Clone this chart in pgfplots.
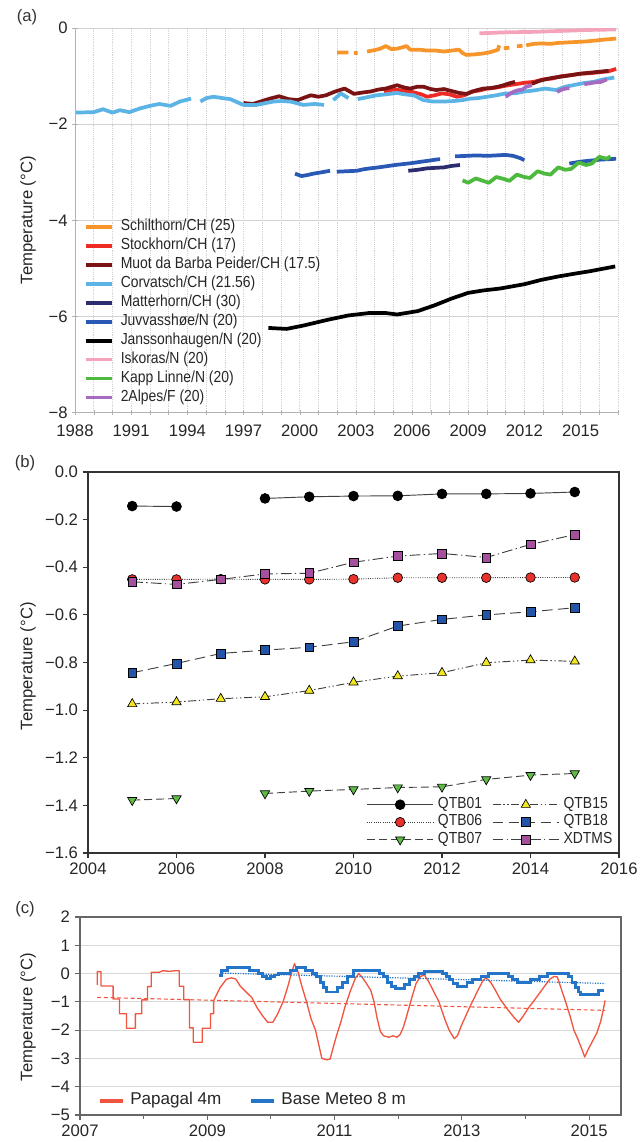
\documentclass[border=0pt]{standalone}
\usepackage{fontspec}
\setmainfont{Liberation Sans}
\newfontfamily\narrowfont{Liberation Sans}[FakeStretch=0.87]
\usepackage{pgfplots}
\pgfplotsset{compat=1.18}
\definecolor{cSchil}{HTML}{F7952B}
\definecolor{cStock}{HTML}{EE2A24}
\definecolor{cMuot}{HTML}{7A1414}
\definecolor{cCorv}{HTML}{5BB3E6}
\definecolor{cMatt}{HTML}{2C2C70}
\definecolor{cJuv}{HTML}{2A58B5}
\definecolor{cIsk}{HTML}{F4A3BA}
\definecolor{cKapp}{HTML}{4DBA3F}
\definecolor{cAlp}{HTML}{A66AC0}
\definecolor{bRed}{HTML}{E8312A}
\definecolor{bGreen}{HTML}{5DBB46}
\definecolor{bYellow}{HTML}{F2E61E}
\definecolor{bBlue}{HTML}{2255A8}
\definecolor{bPurple}{HTML}{A4509F}
\definecolor{pRed}{HTML}{F2553F}
\definecolor{pBlue}{HTML}{2474C8}
\newcommand{\tickfont}{\fontsize{12.5}{13}\selectfont}
\begin{document}
\begin{tikzpicture}
\useasboundingbox (0pt,0pt) rectangle (482.25pt,-856.5pt);
\node[font=\tickfont, text=black!80] at (20.25pt,-12.75pt) {(a)};
\node[font=\tickfont, text=black!80] at (18.75pt,-347.25pt) {(b)};
\node[font=\tickfont, text=black!80] at (18.75pt,-681.75pt) {(c)};
% ---------------- panel (a)
\begin{axis}[
  at={(56.25pt,-309.4pt)}, anchor=south west, scale only axis,
  width=407.25pt, height=288.4pt,
  xmin=1988, xmax=2017, ymin=-8, ymax=0,
  xtick={1988,1991,1994,1997,2000,2003,2006,2009,2012,2015},
  xticklabels={1988,1991,1994,1997,2000,2003,2006,2009,2012,2015},
  minor xtick={1988,1989,...,2017},
  ytick={-8,-6,-4,-2,0}, yticklabels={−8,−6,−4,−2,0},
  axis lines*=left, axis line style={gray!60},
  tick align=center, major tick length=4pt, minor tick length=4pt,
  tick style={gray!60},
  xminorgrids, ymajorgrids,
  minor grid style={gray!35, densely dotted},
  major grid style={gray!35, solid},
  tick label style={font=\tickfont, text=black!85},
  xticklabel style={yshift=-3.5pt},
  ylabel={Temperature (°C)},
  ylabel style={font=\tickfont, text=black!85, at={(axis description cs:-0.0866,0.5)}, anchor=center},
  unbounded coords=jump,
  every axis plot/.append style={line width=2.8pt, line join=round},
  legend image code/.code={\draw[#1,line width=2.8pt] (0pt,0pt) -- (19.5pt,0pt);},
  legend cell align=left,
  legend style={at={(axis cs:1988.45,-3.99)}, anchor=north west, draw=none, fill=none,
    inner sep=0pt, row sep=3.7pt, font=\narrowfont\fontsize{12}{12}\selectfont, text=black!85,
    nodes={inner sep=0pt, text height=8.2pt, text depth=2.3pt},
    /tikz/every odd column/.append style={column sep=5.5pt}},
]
\addplot[cSchil] coordinates {(2002.0,-0.51)(2002.6,-0.51)(2002.7,nan)(2002.9,-0.52)(2003.1,-0.52)(2003.3,nan)(2003.6,-0.49)(2004.0,-0.46)(2004.3,-0.43)(2004.6,-0.375)(2004.9,-0.44)(2005.2,-0.43)(2005.5,-0.40)(2005.7,-0.375)(2005.9,-0.45)(2006.4,-0.45)(2006.8,-0.47)(2007.3,-0.47)(2007.7,-0.49)(2008.1,-0.47)(2008.5,-0.45)(2008.7,-0.52)(2008.9,-0.56)(2009.3,-0.55)(2009.8,-0.53)(2010.2,-0.50)(2010.6,-0.45)(2010.65,-0.36)(2010.8,nan)(2010.9,-0.42)(2011.2,-0.41)(2011.4,nan)(2011.6,-0.38)(2011.9,-0.37)(2012.0,nan)(2012.1,-0.36)(2012.5,-0.33)(2012.9,-0.32)(2013.4,-0.33)(2013.8,-0.31)(2014.3,-0.30)(2014.8,-0.29)(2015.3,-0.28)(2015.8,-0.26)(2016.3,-0.24)(2016.9,-0.22)};
\addlegendentry{Schilthorn/CH (25)}
\addplot[cStock] coordinates {(2004.5,-1.32)(2005.0,-1.28)(2005.5,-1.30)(2006.0,-1.33)(2006.5,-1.38)(2006.8,-1.43)(2007.2,-1.40)(2007.6,-1.36)(2008.0,-1.38)(2008.4,-1.43)(2008.8,-1.40)(2009.2,-1.32)(2009.6,-1.30)(2010.0,-1.26)(2010.5,-1.24)(2011.0,-1.20)(2011.5,-1.17)(2012.0,-1.14)(2012.5,-1.12)(2013.0,-1.07)(2013.5,-1.05)(2014.0,-1.00)(2014.5,-0.98)(2015.0,-0.95)(2015.5,-0.94)(2016.0,-0.92)(2016.5,-0.90)(2016.9,-0.85)};
\addlegendentry{Stockhorn/CH (17)}
\addplot[cMuot] coordinates {(1997.0,-1.56)(1997.5,-1.58)(1998.0,-1.52)(1998.4,-1.47)(1998.9,-1.42)(1999.4,-1.48)(1999.9,-1.50)(2000.3,-1.44)(2000.6,-1.40)(2001.0,-1.43)(2001.4,-1.40)(2001.9,-1.32)(2002.4,-1.26)(2002.9,-1.37)(2003.4,-1.34)(2003.8,-1.32)(2004.2,-1.28)(2004.6,-1.26)(2005.2,-1.19)(2005.6,-1.24)(2005.9,-1.26)(2006.3,-1.22)(2006.6,-1.22)(2007.0,-1.27)(2007.3,-1.29)(2007.7,-1.27)(2008.0,-1.30)(2008.5,-1.35)(2008.9,-1.37)(2009.4,-1.30)(2009.8,-1.26)(2010.2,-1.25)(2010.6,-1.22)(2010.9,-1.19)(2011.2,-1.15)(2011.5,-1.12)(2011.9,nan)(2012.4,-1.16)(2012.8,-1.10)(2013.2,-1.06)(2013.6,-1.03)(2014.0,-1.01)(2014.5,-0.98)(2015.0,-0.95)(2015.5,-0.93)(2016.0,-0.91)(2016.5,-0.89)};
\addlegendentry{Muot da Barba Peider/CH (17.5)}
\addplot[cCorv] coordinates {(1988.05,-1.76)(1989.0,-1.75)(1989.5,-1.69)(1990.0,-1.76)(1990.4,-1.71)(1990.9,-1.75)(1991.5,-1.67)(1992.0,-1.62)(1992.5,-1.58)(1993.1,-1.62)(1993.6,-1.53)(1994.2,-1.47)(1994.45,nan)(1994.7,-1.53)(1995.0,-1.46)(1995.4,-1.43)(1995.9,-1.46)(1996.3,-1.48)(1996.7,-1.55)(1997.0,-1.60)(1997.7,-1.60)(1998.2,-1.56)(1998.6,-1.53)(1999.0,-1.52)(1999.5,-1.53)(2000.2,-1.60)(2000.8,-1.58)(2001.3,-1.60)(2001.55,nan)(2001.8,-1.50)(2002.2,-1.36)(2002.6,-1.46)(2002.85,nan)(2003.1,-1.48)(2003.6,-1.44)(2004.1,-1.40)(2004.6,-1.38)(2005.2,-1.35)(2005.6,-1.38)(2006.1,-1.40)(2006.6,-1.50)(2007.1,-1.53)(2007.7,-1.53)(2008.2,-1.52)(2008.7,-1.50)(2009.1,-1.47)(2009.5,-1.46)(2010.0,-1.43)(2010.5,-1.40)(2011.0,-1.36)(2011.5,-1.36)(2012.0,-1.32)(2012.5,-1.30)(2013.1,-1.26)(2013.7,-1.29)(2014.2,-1.22)(2014.6,-1.19)(2015.1,-1.15)(2015.7,-1.12)(2016.2,-1.07)(2016.8,-1.03)};
\addlegendentry{Corvatsch/CH (21.56)}
\addplot[cMatt] coordinates {(2005.8,-2.97)(2006.3,-2.95)(2006.8,-2.92)(2007.2,-2.91)(2007.7,-2.90)(2008.1,-2.87)(2008.56,-2.85)};
\addlegendentry{Matterhorn/CH (30)}
\addplot[cJuv] coordinates {(1999.75,-3.03)(2000.1,-3.08)(2000.4,-3.06)(2000.73,-3.03)(2001.2,-3.00)(2001.62,-2.97)(2001.8,nan)(2001.98,-2.99)(2002.5,-2.98)(2003.05,-2.97)(2003.4,-2.94)(2003.76,-2.92)(2004.2,-2.90)(2004.65,-2.875)(2005.1,-2.85)(2005.54,-2.83)(2006.0,-2.81)(2006.43,-2.785)(2006.9,-2.76)(2007.32,-2.735)(2007.5,-2.73)(2007.9,nan)(2008.3,-2.67)(2008.9,-2.66)(2009.46,-2.65)(2010.0,-2.66)(2010.5,-2.65)(2011.0,-2.64)(2011.4,-2.66)(2011.8,-2.71)(2012.0,-2.75)(2013.0,nan)(2014.4,-2.82)(2015.0,-2.78)(2015.5,-2.76)(2016.0,-2.74)(2016.9,-2.72)};
\addlegendentry{Juvvasshøe/N (20)}
\addplot[black] coordinates {(1998.33,-6.24)(1999.3,-6.26)(2000.2,-6.19)(2001.5,-6.07)(2002.6,-5.98)(2003.7,-5.93)(2004.6,-5.93)(2005.2,-5.96)(2006.3,-5.89)(2007.2,-5.77)(2008.1,-5.63)(2009.0,-5.51)(2009.8,-5.46)(2010.7,-5.42)(2012.0,-5.33)(2012.9,-5.24)(2013.8,-5.17)(2014.7,-5.11)(2015.5,-5.06)(2016.85,-4.96)};
\addlegendentry{Janssonhaugen/N (20)}
\addplot[cIsk] coordinates {(2009.6,-0.11)(2011.0,-0.09)(2012.5,-0.08)(2014.0,-0.06)(2015.5,-0.04)(2016.9,-0.03)};
\addlegendentry{Iskoras/N (20)}
\addplot[cKapp] coordinates {(2008.7,-3.17)(2009.0,-3.22)(2009.4,-3.13)(2009.8,-3.18)(2010.1,-3.22)(2010.5,-3.10)(2010.9,-3.14)(2011.2,-3.18)(2011.6,-3.05)(2012.0,-3.10)(2012.3,-3.12)(2012.7,-2.98)(2013.1,-3.03)(2013.4,-3.05)(2013.8,-2.90)(2014.2,-2.95)(2014.5,-2.93)(2014.9,-2.80)(2015.3,-2.85)(2015.6,-2.82)(2016.0,-2.68)(2016.4,-2.72)(2016.6,-2.67)};
\addlegendentry{Kapp Linne/N (20)}
\addplot[cAlp] coordinates {(2011.0,-1.43)(2011.3,-1.35)(2011.6,-1.30)(2011.9,-1.28)(2012.1,-1.22)(2012.4,-1.19)(2013.0,nan)(2013.75,-1.33)(2014.0,-1.28)(2014.2,-1.26)(2014.4,-1.25)(2014.8,nan)(2015.2,-1.17)(2015.5,-1.15)(2015.8,-1.13)(2016.1,-1.12)(2016.4,-1.07)};
\addlegendentry{2Alpes/F (20)}
\end{axis}
% ---------------- panel (b)
\begin{axis}[
  at={(66pt,-639.75pt)}, anchor=south west, scale only axis,
  width=398.25pt, height=285.75pt,
  xmin=2004, xmax=2016, ymin=-1.6, ymax=0,
  xtick={2004,2006,2008,2010,2012,2014,2016},
  xticklabels={2004,2006,2008,2010,2012,2014,2016},
  ytick={-1.6,-1.4,-1.2,-1,-0.8,-0.6,-0.4,-0.2,0},
  yticklabels={−1.6,−1.4,−1.2,−1.0,−0.8,−0.6,−0.4,−0.2,0.0},
  xtick pos=bottom, ytick pos=left, tick align=outside, major tick length=4pt,
  axis line style={black!80, line width=0.8pt}, tick style={black!80, line width=0.8pt},
  tick label style={font=\tickfont, text=black!85},
  ylabel={Temperature (°C)},
  ylabel style={font=\tickfont, text=black!85, at={(axis description cs:-0.113,0.49)}, anchor=center},
  unbounded coords=jump,
  every axis plot/.append style={line width=0.7pt, black!75},
  legend columns=2,
  legend image code/.code={\draw[mark repeat=2,mark phase=2,#1] plot coordinates {(0pt,0pt) (25pt,0pt) (50pt,0pt)};},
  legend cell align=left,
  legend style={at={(rel axis cs:0.988,0.016)}, anchor=south east, draw=none, fill=none,
    inner sep=0pt, row sep=2.6pt, font=\narrowfont\fontsize{12}{12}\selectfont, text=black!85,
    nodes={inner sep=0pt, text height=8pt, text depth=2.5pt},
    /tikz/every odd column/.append style={column sep=3pt},
    /tikz/every even column/.append style={column sep=7.5pt}},
]
\addplot[solid, mark=*, mark size=3.6pt, mark options={solid, fill=black, draw=black}] coordinates {(2005,-0.143)(2006,-0.145)(2007,nan)(2008,-0.111)(2009,-0.104)(2010,-0.101)(2011,-0.100)(2012,-0.092)(2013,-0.092)(2014,-0.090)(2015,-0.084)};
\addlegendentry{QTB01}
\addplot[dash pattern=on 6pt off 2pt on 1pt off 2pt on 1pt off 2pt, mark=triangle*, mark size=4pt, mark options={solid, fill=bYellow, draw=black, line width=0.5pt}] coordinates {(2005,-0.974)(2006,-0.966)(2007,-0.952)(2008,-0.944)(2009,-0.918)(2010,-0.883)(2011,-0.857)(2012,-0.843)(2013,-0.801)(2014,-0.790)(2015,-0.795)};
\addlegendentry{QTB15}
\addplot[densely dotted, mark=*, mark size=3.6pt, mark options={solid, fill=bRed, draw=black, line width=0.5pt}] coordinates {(2005,-0.451)(2006,-0.451)(2007,-0.450)(2008,-0.451)(2009,-0.451)(2010,-0.450)(2011,-0.444)(2012,-0.444)(2013,-0.444)(2014,-0.443)(2015,-0.443)};
\addlegendentry{QTB06}
\addplot[dash pattern=on 8pt off 4pt, mark=square*, mark size=3.3pt, mark options={solid, fill=bBlue, draw=black, line width=0.5pt}] coordinates {(2005,-0.843)(2006,-0.804)(2007,-0.762)(2008,-0.748)(2009,-0.736)(2010,-0.713)(2011,-0.647)(2012,-0.619)(2013,-0.600)(2014,-0.587)(2015,-0.570)};
\addlegendentry{QTB18}
\addplot[dash pattern=on 6pt off 3pt, mark=triangle*, mark size=4pt, mark options={solid, rotate=180, fill=bGreen, draw=black, line width=0.5pt}] coordinates {(2005,-1.378)(2006,-1.371)(2007,nan)(2008,-1.350)(2009,-1.340)(2010,-1.333)(2011,-1.325)(2012,-1.322)(2013,-1.291)(2014,-1.273)(2015,-1.266)};
\addlegendentry{QTB07}
\addplot[dash pattern=on 8pt off 2.5pt on 1pt off 2.5pt, mark=square*, mark size=3.3pt, mark options={solid, fill=bPurple, draw=black, line width=0.5pt}] coordinates {(2005,-0.461)(2006,-0.472)(2007,-0.451)(2008,-0.428)(2009,-0.425)(2010,-0.379)(2011,-0.353)(2012,-0.342)(2013,-0.359)(2014,-0.304)(2015,-0.263)};
\addlegendentry{XDTMS}
\end{axis}
% ---------------- panel (c)
\begin{axis}[
  at={(60pt,-836.25pt)}, anchor=south west, scale only axis,
  width=405.75pt, height=148.5pt,
  xmin=2007, xmax=2015.5, ymin=-5, ymax=2,
  xtick={2007,2009,2011,2013,2015},
  xticklabels={2007,2009,2011,2013,2015},
  minor xtick={2008,2010,2012,2014},
  ytick={-5,-4,-3,-2,-1,0,1,2},
  yticklabels={−5,−4,−3,−2,−1,0,1,2},
  xtick pos=bottom, ytick pos=left, tick align=outside,
  major tick length=4pt, minor tick length=3pt,
  axis line style={gray!80!black, line width=0.8pt}, tick style={gray!80!black, line width=0.8pt},
  ymajorgrids, major grid style={gray!30, line width=0.6pt},
  tick label style={font=\tickfont, text=black!85},
  ylabel={Temperature (°C)},
  ylabel style={font=\tickfont, text=black!85, at={(axis description cs:-0.096,0.495)}, anchor=center},
  legend columns=2,
  legend image code/.code={\draw[#1, line width=2.6pt] (0pt,0pt) -- (17pt,0pt);},
  legend cell align=left,
  legend style={at={(rel axis cs:0.033,0.03)}, anchor=south west, draw=none, fill=none,
    inner sep=0pt, font=\fontsize{12.8}{13}\selectfont, text=black!85,
    nodes={inner sep=0pt, text height=9pt, text depth=3pt},
    /tikz/every odd column/.append style={column sep=4.5pt},
    /tikz/every even column/.append style={column sep=21pt}},
]
\addplot[pRed, line width=1pt, line join=round] coordinates {(2007.27,-0.40)(2007.27,0.07)(2007.33,0.07)(2007.33,-0.44)(2007.52,-0.44)(2007.52,-0.90)(2007.62,-0.90)(2007.62,-1.42)(2007.73,-1.42)(2007.73,-1.93)(2007.87,-1.93)(2007.87,-1.42)(2007.97,-1.42)(2007.97,-0.93)(2008.06,-0.93)(2008.06,-0.46)(2008.12,-0.46)(2008.12,0.05)(2008.25,0.05)(2008.3,0.1)(2008.4,0.08)(2008.5,0.1)(2008.56,0.1)(2008.56,-0.45)(2008.63,-0.45)(2008.63,-0.92)(2008.72,-0.92)(2008.72,-1.92)(2008.78,-1.92)(2008.78,-2.43)(2008.92,-2.43)(2008.92,-1.93)(2009.05,-1.93)(2009.05,-1.42)(2009.1,-1.42)(2009.1,-0.95)(2009.2,-0.5)(2009.3,-0.2)(2009.38,-0.15)(2009.45,-0.2)(2009.52,-0.45)(2009.61,-0.65)(2009.7,-0.85)(2009.78,-1.2)(2009.87,-1.5)(2009.95,-1.72)(2010.03,-1.72)(2010.1,-1.45)(2010.19,-1.0)(2010.26,-0.5)(2010.32,0.0)(2010.37,0.35)(2010.42,0.1)(2010.48,-0.4)(2010.56,-1.0)(2010.63,-1.6)(2010.7,-2.0)(2010.76,-2.6)(2010.8,-3.0)(2010.88,-3.05)(2010.93,-3.02)(2010.98,-2.6)(2011.03,-2.2)(2011.1,-1.7)(2011.16,-1.2)(2011.25,-0.6)(2011.33,-0.15)(2011.38,0.0)(2011.44,-0.15)(2011.5,-0.35)(2011.57,-0.6)(2011.62,-1.0)(2011.67,-1.6)(2011.72,-2.05)(2011.77,-2.2)(2011.85,-2.25)(2011.92,-2.2)(2011.98,-2.25)(2012.03,-2.15)(2012.08,-1.9)(2012.12,-1.6)(2012.22,-0.8)(2012.28,-0.35)(2012.35,-0.1)(2012.41,-0.05)(2012.47,-0.25)(2012.55,-0.6)(2012.64,-1.0)(2012.73,-1.6)(2012.8,-2.0)(2012.88,-2.3)(2012.93,-2.2)(2012.99,-1.85)(2013.06,-1.5)(2013.12,-1.2)(2013.25,-0.6)(2013.33,-0.25)(2013.38,-0.15)(2013.45,-0.3)(2013.53,-0.6)(2013.6,-0.9)(2013.73,-1.3)(2013.82,-1.55)(2013.89,-1.72)(2013.95,-1.55)(2014.05,-1.2)(2014.12,-1.0)(2014.25,-0.6)(2014.38,-0.2)(2014.45,-0.1)(2014.5,-0.12)(2014.57,-0.6)(2014.63,-1.0)(2014.7,-1.5)(2014.76,-2.0)(2014.82,-2.3)(2014.89,-2.7)(2014.93,-2.95)(2014.98,-2.7)(2015.05,-2.4)(2015.12,-2.1)(2015.18,-1.7)(2015.22,-1.3)(2015.25,-0.95)};
\addlegendentry{Papagal 4m}
\addplot[pBlue, line width=2.2pt, const plot] coordinates {(2009.19,-0.08)(2009.22,0.1)(2009.32,0.2)(2009.67,0.1)(2009.8,0.0)(2009.87,-0.1)(2009.93,-0.18)(2010.0,-0.1)(2010.06,-0.05)(2010.12,0.0)(2010.3,0.1)(2010.4,0.22)(2010.55,0.1)(2010.65,0.0)(2010.72,-0.1)(2010.78,-0.3)(2010.83,-0.5)(2010.88,-0.65)(2011.05,-0.5)(2011.12,-0.3)(2011.2,-0.1)(2011.3,0.1)(2011.7,0.0)(2011.77,-0.1)(2011.83,-0.3)(2011.9,-0.45)(2011.96,-0.52)(2012.1,-0.4)(2012.17,-0.2)(2012.25,-0.1)(2012.32,0.0)(2012.42,0.07)(2012.7,0.0)(2012.76,-0.1)(2012.8,-0.2)(2012.86,-0.35)(2012.93,-0.45)(2013.08,-0.3)(2013.17,-0.2)(2013.3,-0.1)(2013.42,0.0)(2013.73,-0.1)(2013.8,-0.2)(2013.88,-0.3)(2014.08,-0.2)(2014.22,-0.1)(2014.35,0.0)(2014.68,-0.1)(2014.73,-0.3)(2014.78,-0.5)(2014.83,-0.65)(2014.87,-0.75)(2015.15,-0.6)(2015.21,-0.55)};
\addlegendentry{Base Meteo 8 m}
\addplot[pRed, line width=0.8pt, dash pattern=on 3pt off 2pt, forget plot] coordinates {(2007.27,-0.84)(2015.25,-1.30)};
\addplot[pBlue, line width=0.9pt, densely dotted, forget plot] coordinates {(2009.2,0.02)(2015.25,-0.35)};
\end{axis}
\end{tikzpicture}
\end{document}
